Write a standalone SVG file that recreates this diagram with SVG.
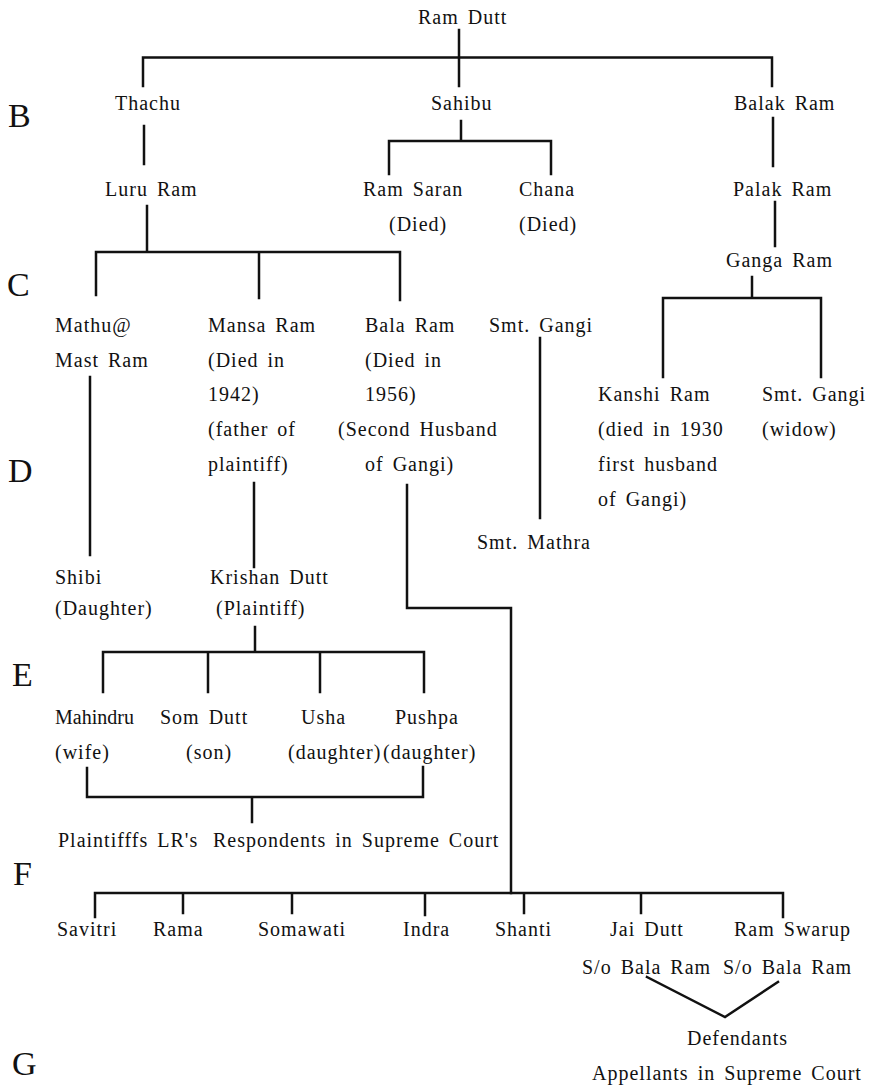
<svg xmlns="http://www.w3.org/2000/svg" width="871" height="1085" viewBox="0 0 871 1085">
<style>
text{font-family:"Liberation Serif","Times New Roman",serif;fill:#111;}
.t{font-size:20px;letter-spacing:1px;word-spacing:3px;}
.L{font-size:34px;}
.c{fill:none;stroke:#111;stroke-width:2.5;stroke-linecap:square;}
</style>
<rect width="871" height="1085" fill="#fff"/>
<g id="section-letters">
<text class="L" x="8" y="127">B</text>
<text class="L" x="7" y="296">C</text>
<text class="L" x="8" y="482">D</text>
<text class="L" x="12" y="686">E</text>
<text class="L" x="13" y="885">F</text>
<text class="L" x="12" y="1075">G</text>
</g>
<g id="connectors" class="c">
<path d="M459 30V86M143 86V57.5H772V86"/>
<path d="M144 126V164M147 206V252M96 295V252H400V300M259 252V298"/>
<path d="M461 121V141M389 174V141H551V174"/>
<path d="M773 118V166M775 202V246M752 277V298M663 377V298H821V377"/>
<path d="M90 377V555M254 483V567M540 338V518"/>
<path d="M407 485V608H511V893"/>
<path d="M255 627V652M103 692V652H424V692M208 652V692M320 652V692"/>
<path d="M87 768V797H423V767M252 797V822"/>
<path d="M95 917V893H783V917M183 893V913M292 893V913M425 893V915M524 893V913M641 893V913"/>
<path d="M647 977L725 1017L778 982"/>
</g>
<g id="ram-dutt"><text class="t" x="418" y="24">Ram Dutt</text></g>
<g id="thachu"><text class="t" x="115" y="110">Thachu</text></g>
<g id="sahibu"><text class="t" x="431" y="110">Sahibu</text></g>
<g id="balak-ram"><text class="t" x="734" y="110">Balak Ram</text></g>
<g id="luru-ram"><text class="t" x="105" y="196">Luru Ram</text></g>
<g id="ram-saran"><text class="t" x="363" y="196">Ram Saran</text><text class="t" x="389" y="231">(Died)</text></g>
<g id="chana"><text class="t" x="519" y="196">Chana</text><text class="t" x="519" y="231">(Died)</text></g>
<g id="palak-ram"><text class="t" x="733" y="196">Palak Ram</text></g>
<g id="ganga-ram"><text class="t" x="726" y="267">Ganga Ram</text></g>
<g id="mathu"><text class="t" x="55" y="332">Mathu@</text><text class="t" x="55" y="367">Mast Ram</text></g>
<g id="mansa-ram"><text class="t" x="208" y="332">Mansa Ram</text><text class="t" x="208" y="367">(Died in</text><text class="t" x="208" y="401">1942)</text><text class="t" x="208" y="436">(father of</text><text class="t" x="208" y="471">plaintiff)</text></g>
<g id="bala-ram"><text class="t" x="365" y="332">Bala Ram</text><text class="t" x="365" y="367">(Died in</text><text class="t" x="365" y="401">1956)</text><text class="t" x="338" y="436">(Second Husband</text><text class="t" x="365" y="471">of Gangi)</text></g>
<g id="smt-gangi-1"><text class="t" x="489" y="332">Smt. Gangi</text></g>
<g id="kanshi-ram"><text class="t" x="598" y="401">Kanshi Ram</text><text class="t" x="598" y="436">(died in 1930</text><text class="t" x="598" y="471">first husband</text><text class="t" x="598" y="506">of Gangi)</text></g>
<g id="smt-gangi-2"><text class="t" x="762" y="401">Smt. Gangi</text><text class="t" x="762" y="436">(widow)</text></g>
<g id="smt-mathra"><text class="t" x="477" y="549">Smt. Mathra</text></g>
<g id="shibi"><text class="t" x="55" y="584">Shibi</text><text class="t" x="55" y="615">(Daughter)</text></g>
<g id="krishan-dutt"><text class="t" x="210" y="584">Krishan Dutt</text><text class="t" x="216" y="615">(Plaintiff)</text></g>
<g id="mahindru"><text class="t" x="55" y="724" style="letter-spacing:0">Mahindru</text><text class="t" x="55" y="759">(wife)</text></g>
<g id="som-dutt"><text class="t" x="160" y="724">Som Dutt</text><text class="t" x="186" y="759">(son)</text></g>
<g id="usha"><text class="t" x="301" y="724">Usha</text><text class="t" x="288" y="759">(daughter)</text></g>
<g id="pushpa"><text class="t" x="395" y="724">Pushpa</text><text class="t" x="383" y="759">(daughter)</text></g>
<g id="plaintiffs-lrs"><text class="t" x="58" y="847">Plaintifffs LR's</text><text class="t" x="213" y="847">Respondents in Supreme Court</text></g>
<g id="savitri"><text class="t" x="57" y="936">Savitri</text></g>
<g id="rama"><text class="t" x="153" y="936">Rama</text></g>
<g id="somawati"><text class="t" x="258" y="936">Somawati</text></g>
<g id="indra"><text class="t" x="403" y="936">Indra</text></g>
<g id="shanti"><text class="t" x="495" y="936">Shanti</text></g>
<g id="jai-dutt"><text class="t" x="610" y="936">Jai Dutt</text><text class="t" x="582" y="974">S/o Bala Ram</text></g>
<g id="ram-swarup"><text class="t" x="734" y="936">Ram Swarup</text><text class="t" x="723" y="974">S/o Bala Ram</text></g>
<g id="defendants"><text class="t" x="687" y="1045">Defendants</text><text class="t" x="592" y="1080">Appellants in Supreme Court</text></g>
</svg>
